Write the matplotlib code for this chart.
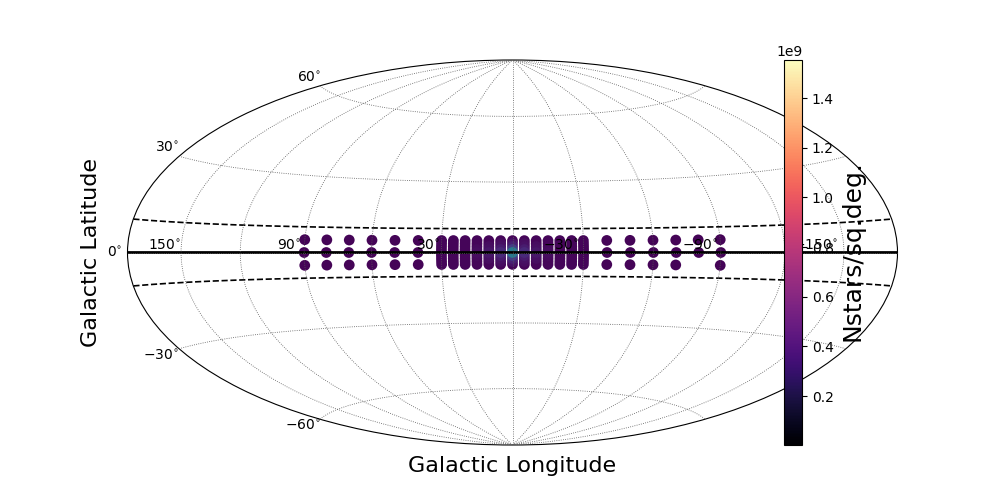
import numpy as np
import matplotlib
matplotlib.use("Agg")
import matplotlib.pyplot as plt
from matplotlib.cm import ScalarMappable
from matplotlib.colors import Normalize
from matplotlib.transforms import ScaledTranslation

# Longitudes as labelled on the chart (they increase to the left)
outer_lons = [90, 80, 70, 60, 50, 40, -40, -50, -60, -70, -90]
outer_lats = [5, 0, -5]
partial_lons = [-80]
partial_lats = [5, 0]
inner_lons = [30, 25, 20, 15, 10, 5, 0, -5, -10, -15, -20, -25, -30]
inner_lats = [5, 3.75, 2.5, 1.25, 0, -1.25, -2.5, -3.75, -5]
lat_edges = [10, -10]
base_value = 0.02e9
inner_base_value = 0.03e9
# Inner-field star densities near the centre (by |lon|, |lat|)
inner_values = {
    (0, 0): 0.9e9, (0, 1.25): 0.4e9, (0, 2.5): 0.2e9, (0, 3.75): 0.12e9,
    (5, 0): 0.25e9, (5, 1.25): 0.17e9, (5, 2.5): 0.1e9, (5, 3.75): 0.07e9,
    (10, 0): 0.13e9, (10, 1.25): 0.09e9, (10, 2.5): 0.07e9,
    (15, 0): 0.07e9, (15, 1.25): 0.06e9,
}
cbar_ticks = [0.2e9, 0.4e9, 0.6e9, 0.8e9, 1.0e9, 1.2e9, 1.4e9]
cbar_min = 0.003e9
cbar_max = 1.553e9
scatter_max = 2.2e9
lon_labels = ["150", "", "90", "", "30", "", "$-$30", "", "$-$90", "", "$-$150"]
lat_labels = ["$-$60", "$-$30", "0", "30", "60"]
# pixel nudges of the tick labels as they sit in the reference
lon_nudge = [(0, -4), None, (-3, -4), None, (-1, -4), None, (-5, -4), None, (-3, -4), None, (-6, -4)]
lat_nudge = [(9, 10), (8, 3), (3, 0), (8, -1), (9, -9)]

fig = plt.figure(figsize=(10, 5), dpi=100)
ax = fig.add_subplot(111, projection="hammer")
ax.set_axisbelow(False)

lons, lats, vals = [], [], []
for lo in outer_lons:
    for la in outer_lats:
        lons.append(lo); lats.append(la); vals.append(base_value)
for lo in partial_lons:
    for la in partial_lats:
        lons.append(lo); lats.append(la); vals.append(base_value)
for lo in inner_lons:
    for la in inner_lats:
        lons.append(lo); lats.append(la)
        vals.append(inner_values.get((abs(lo), abs(la)), inner_base_value))
order = np.argsort(vals)
lons = np.array(lons)[order]; lats = np.array(lats)[order]; vals = np.array(vals)[order]

ax.scatter(np.radians(-lons), np.radians(lats), c=vals, cmap="viridis",
           norm=Normalize(0, scatter_max), s=60, zorder=1, linewidths=0)

curve = np.radians(np.linspace(-179.99, 179.99, 400))
ax.plot(curve, np.zeros_like(curve), color="k", lw=2, zorder=2)
for e in lat_edges:
    ax.plot(curve, np.full_like(curve, np.radians(e)), "k--", lw=1.2, zorder=2)

ax.set_longitude_grid(30)
ax.set_latitude_grid(30)
ax.set_longitude_grid_ends(90)
ax.set_xticklabels([f"{t}$^{{\\circ}}$" if t else "" for t in lon_labels])
ax.set_yticklabels([f"{t}$^{{\\circ}}$" for t in lat_labels])
ax.grid(True, color="0.35", linestyle=":", linewidth=0.6)
ax.set_xlabel("Galactic Longitude", fontsize=16, labelpad=8)
ax.set_ylabel("Galactic Latitude", fontsize=16, labelpad=4)

for lab, nudge in zip(ax.get_xticklabels(), lon_nudge):
    if nudge:
        lab.set_ha("right")
        lab.set_transform(lab.get_transform() + ScaledTranslation(nudge[0] / 100, nudge[1] / 100, fig.dpi_scale_trans))
for lab, nudge in zip(ax.get_yticklabels(), lat_nudge):
    lab.set_transform(lab.get_transform() + ScaledTranslation(nudge[0] / 100, nudge[1] / 100, fig.dpi_scale_trans))

cax = fig.add_axes([0.7842, 0.11, 0.018, 0.77])
sm = ScalarMappable(norm=Normalize(cbar_min, cbar_max), cmap="magma")
cb = fig.colorbar(sm, cax=cax, ticks=cbar_ticks)
cb.set_label("Nstars/sq.deg.", fontsize=18, labelpad=5, y=0.505)

fig.savefig("out.png", dpi=100)
